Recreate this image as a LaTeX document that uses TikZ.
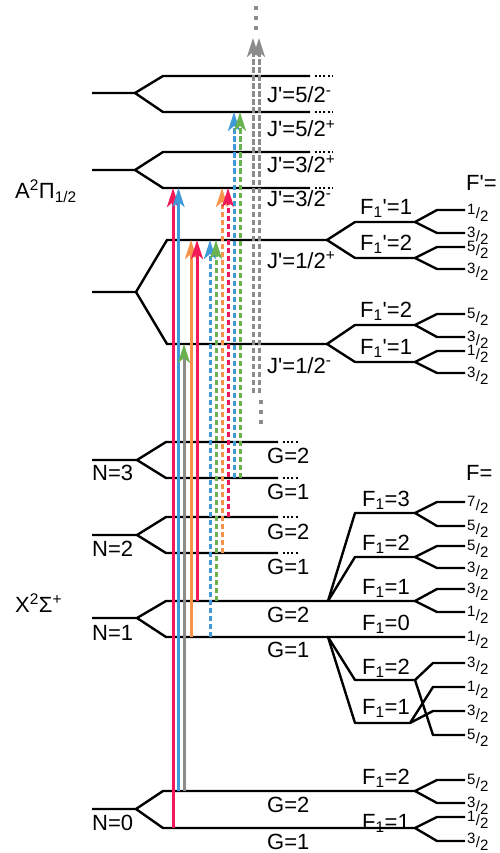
\documentclass[tikz,border=0pt]{standalone}
\usepackage{fontspec}
\setmainfont{Liberation Sans}[Ligatures=TeXOff]
\usetikzlibrary{arrows.meta}
\definecolor{cred}{HTML}{F2195A}
\definecolor{cblue}{HTML}{3F9AD9}
\definecolor{corange}{HTML}{F7944A}
\definecolor{cgreen}{HTML}{6AB150}
\definecolor{cgray}{HTML}{8C8C8C}
\newcommand\fr[2]{\raisebox{3.5pt}{#1}\kern0.2pt/\kern0.2pt\raisebox{-3.5pt}{#2}}
\begin{document}
\begin{tikzpicture}[x=1pt,y=-1pt,
  lvl/.style={line width=2.4pt,line join=round},
  dotl/.style={line width=2.2pt,dash pattern=on 2pt off 2.2pt},
  tipS/.style={-{Stealth[length=19pt,width=12pt,inset=5pt]}},
  arr/.style={line width=3pt,tipS},
  dsh/.style={arr,dash pattern=on 5.5pt off 2.5pt},
  lab/.style={font=\fontsize{22}{22}\selectfont,inner sep=0pt,anchor=base west},
  frl/.style={font=\fontsize{15}{15}\selectfont,inner sep=0pt,anchor=west},
]
\useasboundingbox (0,0) rectangle (500,853);
% ---------------- A state ----------------
\draw[lvl] (92,93) -- (135,93) -- (163,76) -- (310,76);
\draw[lvl] (135,93) -- (163,112) -- (310,112);
\draw[lvl] (92,170) -- (135,170) -- (163,152) -- (310,152);
\draw[lvl] (135,170) -- (163,188) -- (310,188);
\foreach \yy in {76,112,152,188} \draw[dotl] (315,\yy) -- (333,\yy);
\draw[lvl] (92,292) -- (136,292) -- (167,240) -- (327,240);
\draw[lvl] (136,292) -- (167,344) -- (327,344);
% J'=1/2+
\draw[lvl] (327,240) -- (355,222) -- (415,222) -- (437,210) -- (465,210);
\draw[lvl] (415,222) -- (437,233) -- (465,233);
\draw[lvl] (327,240) -- (355,258) -- (415,258) -- (437,247) -- (465,247);
\draw[lvl] (415,258) -- (437,269) -- (465,269);
% J'=1/2-
\draw[lvl] (327,344) -- (355,325) -- (415,325) -- (437,314) -- (465,314);
\draw[lvl] (415,325) -- (437,337) -- (465,337);
\draw[lvl] (327,344) -- (355,362) -- (415,362) -- (437,351) -- (465,351);
\draw[lvl] (415,362) -- (437,373) -- (465,373);
% ---------------- X state ----------------
\draw[lvl] (92,460) -- (137,460) -- (166,442) -- (278,442);
\draw[lvl] (137,460) -- (166,478) -- (278,478);
\draw[lvl] (92,535) -- (137,535) -- (166,517) -- (278,517);
\draw[lvl] (137,535) -- (166,553) -- (278,553);
\foreach \yy in {442,478,517,553} \draw[dotl] (283,\yy) -- (299,\yy);
% N=1
\draw[lvl] (92,618) -- (137,618) -- (166,601) -- (415,601) -- (437,589) -- (465,589);
\draw[lvl] (415,601) -- (437,612) -- (465,612);
\draw[lvl] (328,601) -- (355,513) -- (415,513) -- (437,502) -- (465,502);
\draw[lvl] (415,513) -- (437,526) -- (465,526);
\draw[lvl] (328,601) -- (355,557) -- (415,557) -- (437,546) -- (465,546);
\draw[lvl] (415,557) -- (437,568) -- (465,568);
\draw[lvl] (137,618) -- (166,637) -- (465,637);
\draw[lvl] (328,637) -- (355,680) -- (415,680) -- (433,663) -- (465,663);
\draw[lvl] (415,680) -- (433,735) -- (465,735);
\draw[lvl] (328,637) -- (355,723) -- (410,723) -- (433,687) -- (465,687);
\draw[lvl] (410,723) -- (433,711) -- (465,711);
% N=0
\draw[lvl] (92,809) -- (136,809) -- (163,791) -- (415,791) -- (437,780) -- (465,780);
\draw[lvl] (415,791) -- (437,803) -- (465,803);
\draw[lvl] (136,809) -- (163,828) -- (415,828) -- (437,817) -- (465,817);
\draw[lvl] (415,828) -- (437,841) -- (465,841);
% ---------------- transitions ----------------
\draw[arr,cred] (173,828) -- (173,188);
\draw[arr,cblue] (178.5,791) -- (178.5,188);
\draw[line width=3pt,cgray,-{Stealth[length=19pt,width=12pt,inset=5pt,color=cgreen]}] (184,791) -- (184,344);
\draw[arr,corange] (191,637) -- (191,240);
\draw[arr,cred] (197,601) -- (197,240);
\draw[dsh,cblue] (210,637) -- (210,240);
\draw[dsh,cgreen] (216,601) -- (216,240);
\draw[dsh,corange] (222,553) -- (222,188);
\draw[dsh,cred] (228,517) -- (228,188);
\draw[dsh,cblue] (234,478) -- (234,112);
\draw[dsh,cgreen] (240,478) -- (240,112);
\draw[dsh,cgray] (253,393) -- (253,38);
\draw[dsh,cgray] (259,393) -- (259,38);
\draw[cgray,line width=4pt,dash pattern=on 4pt off 6pt] (256,6) -- (256,34);
\draw[cgray,line width=4pt,dash pattern=on 4pt off 6pt] (261,400) -- (261,427);
% ---------------- labels ----------------
\node[lab] (lA) at (15,198) {A\textsuperscript{2}Π\textsubscript{1/2}};
\node[lab] (lX) at (15,612) {X\textsuperscript{2}Σ\textsuperscript{+}};
\node[lab] (j1) at (267,103) {J'=5/2\textsuperscript{-}};
\node[lab] (j2) at (267,137) {J'=5/2\textsuperscript{+}};
\node[lab] (j3) at (267,172) {J'=3/2\textsuperscript{+}};
\node[lab] (j4) at (267,206) {J'=3/2\textsuperscript{-}};
\node[lab] (j5) at (267,268) {J'=1/2\textsuperscript{+}};
\node[lab] (j6) at (267,373) {J'=1/2\textsuperscript{-}};
\node[lab] (fa1) at (360,214) {F\textsubscript{1}'=1};
\node[lab] (fa2) at (360,250) {F\textsubscript{1}'=2};
\node[lab] (fa3) at (360,317) {F\textsubscript{1}'=2};
\node[lab] (fa4) at (360,354) {F\textsubscript{1}'=1};
\node[lab] (fp) at (466,190) {F'=};
\node[lab] (fx) at (466,480) {F=};
\node[lab] (n3) at (92,480) {N=3};
\node[lab] (n2) at (92,556) {N=2};
\node[lab] (n1) at (92,640) {N=1};
\node[lab] (n0) at (92,830) {N=0};
\node[lab] (g32) at (267,463) {G=2};
\node[lab] (g31) at (267,499) {G=1};
\node[lab] (g22) at (267,539) {G=2};
\node[lab] (g21) at (267,574) {G=1};
\node[lab] (g12) at (267,622) {G=2};
\node[lab] (g11) at (267,657) {G=1};
\node[lab] (g02) at (267,812) {G=2};
\node[lab] (g01) at (267,849) {G=1};
\node[lab] (f13) at (362,506) {F\textsubscript{1}=3};
\node[lab] (f12) at (362,550) {F\textsubscript{1}=2};
\node[lab] (f11) at (362,594) {F\textsubscript{1}=1};
\node[lab] (f10) at (362,630) {F\textsubscript{1}=0};
\node[lab] (f22) at (362,674) {F\textsubscript{1}=2};
\node[lab] (f21) at (362,714) {F\textsubscript{1}=1};
\node[lab] (f02) at (362,784) {F\textsubscript{1}=2};
\node[lab] (f01) at (362,829) {F\textsubscript{1}=1};
% fractions
\foreach \yy/\a/\b [count=\i] in {210/1/2,233/3/2,247/5/2,269/3/2,314/5/2,337/3/2,351/1/2,373/3/2,
  502/7/2,526/5/2,546/5/2,568/3/2,589/3/2,612/1/2,637/1/2,
  663/3/2,687/1/2,711/3/2,735/5/2,780/5/2,803/3/2,817/1/2}
  \node[frl] (fr\i) at (467,\yy+3) {\fr{\a}{\b}};
\node[frl] (frlast) at (467,842) {\fr{3}{2}};
\end{tikzpicture}
\end{document}
